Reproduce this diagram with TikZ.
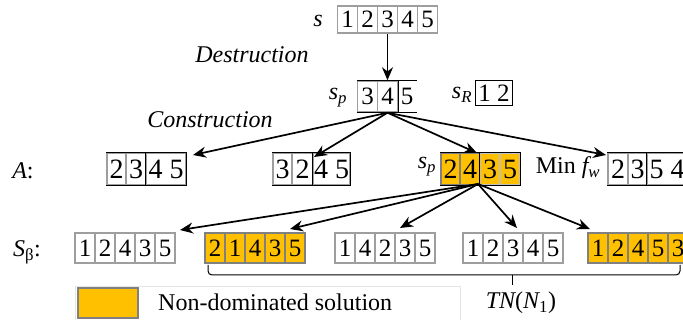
\documentclass[tikz,border=0pt]{standalone}
\usepackage{fontspec}
\setmainfont{Liberation Serif}
\usetikzlibrary{arrows.meta}
\definecolor{ndorange}{HTML}{FFC000}
\tikzset{
  cellg/.style={draw=black!38, line width=1.5pt, fill=white, minimum width=20pt, minimum height=30pt, inner sep=0pt, font=\fontsize{25}{25}\selectfont},
  cello/.style={cellg, fill=ndorange, draw=black!50},
  bigd/.style={font=\fontsize{28}{28}\selectfont},
  arr/.style={line width=1.7pt, -{Stealth[length=13pt,width=11pt]}},
  lbl/.style={inner sep=0pt, font=\fontsize{24}{28}\selectfont},
  ilbl/.style={inner sep=0pt, font=\fontsize{24}{28}\selectfont\itshape},
  blk/.style={draw=black, line width=1.3pt},
}
\begin{document}
\begin{tikzpicture}[x=1pt,y=-1pt]
\useasboundingbox (0,0) rectangle (683,320);
\clip (0,0) rectangle (683,320);

% ---- top solution s
\foreach \d [count=\i] in {1,2,3,4,5}
  \node[cellg, minimum height=27pt] (s\i) at (327.5+20*\i,19.5) {\d};
\node[ilbl] (slbl) at (318,21) {s};
\node[ilbl] (destr) at (252,55) {Destruction};
\node[ilbl] (constr) at (210,120) {Construction};

% ---- partial solution s_p and removed s_R
\node[cellg, minimum height=31pt] (sp1) at (367.5,96.5) {3};
\node[cellg, minimum height=31pt] (sp2) at (387.5,96.5) {4};
\node[cellg, minimum height=31pt, draw=none, fill=none, minimum width=19pt] (sp3) at (407,96.5) {5};
\draw[blk] (sp1.north west) -- (sp3.north east);
\draw[blk] (sp1.south west) -- (sp3.south east);
\draw[blk] (sp2.north east) -- (sp2.south east);
\node[ilbl] (splbl) at (338,98) {s\textsubscript{p}};
\node[ilbl] (srlbl) at (462,95) {s\textsubscript{R}};
\node[draw, line width=1.3pt, minimum width=37pt, minimum height=25pt, inner sep=0pt, font=\fontsize{25}{25}\selectfont] (sR) at (494,93) {1 2};

\draw[arr] (s3.south) -- (sp2.north);

% ---- set A
\node[ilbl] (Albl) at (23,171) {A\upshape:};
% A1
\node[cellg, bigd, minimum height=32pt, minimum width=19pt] (a1a) at (116.5,169) {2};
\node[cellg, bigd, minimum height=32pt] (a1b) at (136,169) {3};
\node[cellg, bigd, minimum height=32pt, minimum width=40pt] (a1c) at (166,169) {4 5};
\draw[blk] (a1c.north west) rectangle (a1c.south east);
\draw[blk] (a1a.north west) -- (a1c.north west) (a1a.south west) -- (a1c.south west);
% A2
\node[cellg, bigd, minimum height=32pt, minimum width=19pt] (a2a) at (282.5,169) {3};
\node[cellg, bigd, minimum height=32pt, minimum width=21pt] (a2b) at (302.5,169) {2};
\node[cellg, bigd, minimum height=32pt, minimum width=37pt] (a2c) at (331.5,169) {4 5};
\draw[blk] (a2c.north west) rectangle (a2c.south east);
\draw[blk] (a2a.north west) -- (a2c.north west) (a2a.south west) -- (a2c.south west);
% A3 (new s_p, orange)
\node[ilbl] (splbl2) at (427,167) {s\textsubscript{p}};
\node[cello, bigd, minimum height=32pt, minimum width=19pt] (a3a) at (450.5,169) {2};
\node[cello, bigd, minimum height=32pt] (a3b) at (470,169) {4};
\node[cello, bigd, minimum height=32pt, draw=black!25] (a3c) at (490,169) {3};
\node[cello, bigd, minimum height=32pt, draw=black!25] (a3d) at (510,169) {5};
\draw[blk] (a3c.north west) rectangle (a3d.south east);
\draw[blk] (a3a.north west) -- (a3c.north west) (a3a.south west) -- (a3c.south west);
% A4 (Min f_w)
\node[lbl] (minfw) at (568,168) {Min \itshape f\textsubscript{w}};
\node[cellg, bigd, minimum height=32pt] (a4a) at (618,169) {2};
\node[cellg, bigd, minimum height=32pt, minimum width=19pt] (a4b) at (637.5,169) {3};
\node[cellg, bigd, minimum height=32pt, minimum width=40pt] (a4c) at (667,169) {5 4};
\draw[blk] (a4c.north west) rectangle (a4c.south east);
\draw[blk] (a4a.north west) -- (a4c.north west) (a4a.south west) -- (a4c.south west);

\coordinate (tA1) at (193,155);
\coordinate (tA2) at (314,157);
\coordinate (tA3) at (477,153);
\coordinate (tA4) at (606,155);
\foreach \t in {tA1,tA2,tA3,tA4}
  \draw[arr] (sp2.south) -- (\t);

% ---- S_beta
\node[lbl] (Sblbl) at (27,252) {\itshape S\upshape\textsubscript{β}:};
\foreach \d [count=\i] in {1,2,4,3,5}
  \node[cellg] (b1-\i) at (65+20*\i,248) {\d};
\foreach \d [count=\i] in {2,1,4,3,5}
  \node[cello] (b2-\i) at (195+20*\i,248) {\d};
\foreach \d [count=\i] in {1,4,2,3,5}
  \node[cellg] (b3-\i) at (325+20*\i,248) {\d};
\foreach \d [count=\i] in {1,2,3,4,5}
  \node[cellg] (b4-\i) at (453+20*\i,248) {\d};
\foreach \d [count=\i] in {1,2,4,5,3}
  \node[cello] (b5-\i) at (578+20*\i,248) {\d};

\coordinate (osrc) at (478,184);
\coordinate (tB1) at (180,230);
\coordinate (tB2) at (290,229);
\coordinate (tB3) at (400,228);
\coordinate (tB4) at (517,228);
\coordinate (tB5) at (590,229);
\foreach \t in {tB1,tB2,tB3,tB4,tB5}
  \draw[arr] (osrc) -- (\t);

% ---- brace TN(N_1)
\draw[line width=1pt, rounded corners=4pt] (208,265) -- (208,275) -- (680,275) -- (680,265);
\draw[line width=1pt] (512,275) -- (512,285);
\node[lbl] (tn) at (521,303) {\itshape TN\upshape(\itshape N\upshape\textsubscript{1})};

% ---- legend
\draw[black!10, line width=0.6pt] (75,286) rectangle (460,320);
\node[cello, minimum width=60pt, minimum height=30pt] (leg) at (108,303) {};
\node[lbl, anchor=west] (legtxt) at (158,302) {Non-dominated solution};
\end{tikzpicture}
\end{document}
